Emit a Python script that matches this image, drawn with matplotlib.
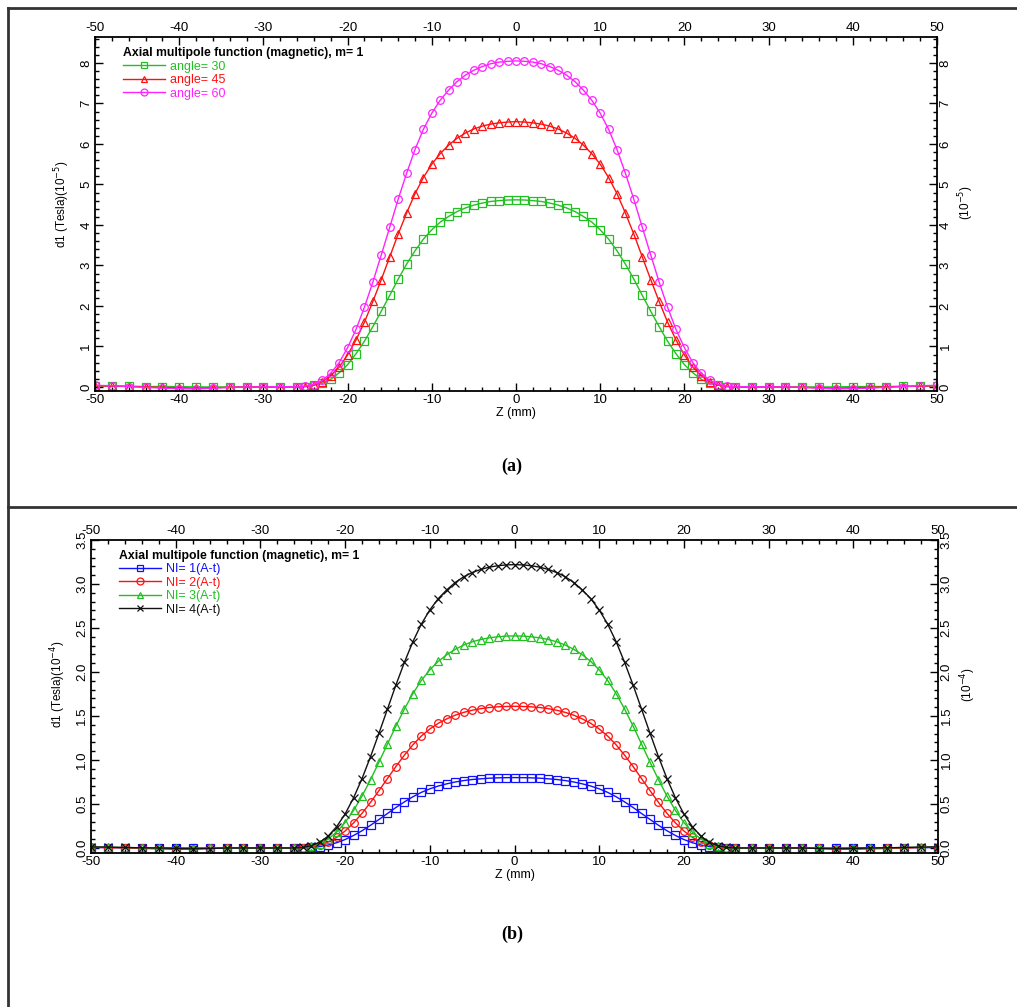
import matplotlib
matplotlib.use("Agg")
import matplotlib.pyplot as plt
from matplotlib.lines import Line2D
from matplotlib.ticker import MultipleLocator, FuncFormatter

plt.rcParams['font.family'] = ['Liberation Sans', 'DejaVu Sans']
plt.rcParams['axes.unicode_minus'] = False

# ---------------- data ----------------
z_outer_left = [-50, -48, -46, -44, -42, -40, -38, -36, -34, -32, -30, -28]
z_inner = list(range(-26, 27))
z_outer_right = [28, 30, 32, 34, 36, 38, 40, 42, 44, 46, 48, 50]
z = z_outer_left + z_inner + z_outer_right

# panel (a): d1 (10^-5 Tesla)
angle30 = ([0.02, 0.02, 0.02, 0.01, 0.01, 0.01, 0.0, 0.0, 0.0, 0.0, 0.0, 0.0] +
           [0.00, 0.01, 0.04, 0.09, 0.19, 0.35, 0.55, 0.82, 1.13, 1.49, 1.87, 2.26, 2.66,
            3.03, 3.36, 3.65, 3.88, 4.07, 4.21, 4.33, 4.42, 4.49, 4.54, 4.58, 4.60, 4.615,
            4.62,
            4.615, 4.60, 4.58, 4.54, 4.49, 4.42, 4.33, 4.21, 4.07, 3.88, 3.65, 3.36, 3.03,
            2.66, 2.26, 1.87, 1.49, 1.13, 0.82, 0.55, 0.35, 0.19, 0.09, 0.04, 0.01, 0.00] +
           [0.0, 0.0, 0.0, 0.0, 0.0, 0.0, 0.01, 0.01, 0.01, 0.02, 0.02, 0.02])
angle45 = ([0.03, 0.02, 0.01, 0.0, -0.01, -0.02, -0.03, -0.02, -0.01, 0.0, 0.0, 0.0] +
           [0.00, 0.01, 0.05, 0.13, 0.28, 0.49, 0.79, 1.16, 1.60, 2.11, 2.65, 3.21, 3.77,
            4.29, 4.77, 5.17, 5.50, 5.76, 5.97, 6.14, 6.27, 6.37, 6.44, 6.49, 6.52, 6.54,
            6.55,
            6.54, 6.52, 6.49, 6.44, 6.37, 6.27, 6.14, 5.97, 5.76, 5.50, 5.17, 4.77, 4.29,
            3.77, 3.21, 2.65, 2.11, 1.60, 1.16, 0.79, 0.49, 0.28, 0.13, 0.05, 0.01, 0.00] +
           [0.0, 0.0, 0.0, -0.01, -0.02, -0.03, -0.02, -0.01, 0.0, 0.01, 0.02, 0.03])
angle60 = ([0.04, 0.03, 0.01, -0.01, -0.03, -0.04, -0.05, -0.03, -0.01, 0.0, 0.0, 0.01] +
           [0.00, 0.02, 0.06, 0.16, 0.34, 0.60, 0.97, 1.42, 1.97, 2.59, 3.26, 3.94, 4.63,
            5.27, 5.86, 6.36, 6.76, 7.08, 7.33, 7.54, 7.70, 7.82, 7.91, 7.98, 8.02, 8.04,
            8.05,
            8.04, 8.02, 7.98, 7.91, 7.82, 7.70, 7.54, 7.33, 7.08, 6.76, 6.36, 5.86, 5.27,
            4.63, 3.94, 3.26, 2.59, 1.97, 1.42, 0.97, 0.60, 0.34, 0.16, 0.06, 0.02, 0.00] +
           [0.01, 0.0, 0.0, -0.01, -0.03, -0.05, -0.04, -0.03, -0.01, 0.01, 0.03, 0.04])

# panel (b): d1 (10^-4 Tesla)
ni1 = ([0.005, 0.004, 0.003, 0.002, 0.001, 0.0, 0.0, 0.0, 0.0, 0.0, 0.0, 0.0] +
       [0.000, 0.002, 0.006, 0.016, 0.034, 0.060, 0.096, 0.142, 0.196, 0.258, 0.324, 0.392, 0.460,
        0.524, 0.582, 0.632, 0.672, 0.704, 0.729, 0.750, 0.766, 0.778, 0.786, 0.793, 0.797, 0.799,
        0.800,
        0.799, 0.797, 0.793, 0.786, 0.778, 0.766, 0.750, 0.729, 0.704, 0.672, 0.632, 0.582, 0.524,
        0.460, 0.392, 0.324, 0.258, 0.196, 0.142, 0.096, 0.060, 0.034, 0.016, 0.006, 0.002, 0.000] +
       [0.0, 0.0, 0.0, 0.0, 0.0, 0.0, 0.0, 0.001, 0.002, 0.003, 0.004, 0.005])
ni2 = ([0.01, 0.005, 0.0, -0.005, -0.01, -0.015, -0.01, -0.005, 0.0, 0.0, 0.0, 0.0] +
       [0.000, 0.003, 0.013, 0.032, 0.068, 0.121, 0.193, 0.285, 0.394, 0.518, 0.652, 0.789, 0.926,
        1.055, 1.172, 1.272, 1.352, 1.417, 1.467, 1.509, 1.541, 1.565, 1.583, 1.596, 1.604, 1.608,
        1.610,
        1.608, 1.604, 1.596, 1.583, 1.565, 1.541, 1.509, 1.467, 1.417, 1.352, 1.272, 1.172, 1.055,
        0.926, 0.789, 0.652, 0.518, 0.394, 0.285, 0.193, 0.121, 0.068, 0.032, 0.013, 0.003, 0.000] +
       [0.0, 0.0, 0.0, 0.0, -0.005, -0.01, -0.015, -0.01, -0.005, 0.0, 0.005, 0.01])
ni3 = ([0.01, 0.008, 0.005, 0.002, 0.0, -0.005, -0.008, -0.005, 0.0, 0.0, 0.0, 0.0] +
       [0.000, 0.005, 0.019, 0.048, 0.101, 0.181, 0.289, 0.427, 0.590, 0.776, 0.976, 1.181, 1.386,
        1.579, 1.754, 1.904, 2.024, 2.121, 2.196, 2.258, 2.306, 2.343, 2.369, 2.388, 2.400, 2.408,
        2.410,
        2.408, 2.400, 2.388, 2.369, 2.343, 2.306, 2.258, 2.196, 2.121, 2.024, 1.904, 1.754, 1.579,
        1.386, 1.181, 0.976, 0.776, 0.590, 0.427, 0.289, 0.181, 0.101, 0.048, 0.019, 0.005, 0.000] +
       [0.0, 0.0, 0.0, 0.0, -0.005, -0.008, -0.005, 0.0, 0.002, 0.005, 0.008, 0.01])
ni4 = ([0.012, 0.01, 0.006, 0.002, 0.0, -0.005, -0.01, -0.006, 0.0, 0.0, 0.0, 0.0] +
       [0.000, 0.006, 0.026, 0.064, 0.135, 0.242, 0.386, 0.570, 0.789, 1.037, 1.304, 1.578, 1.852,
        2.109, 2.344, 2.544, 2.705, 2.834, 2.933, 3.017, 3.082, 3.130, 3.165, 3.191, 3.207, 3.217,
        3.220,
        3.217, 3.207, 3.191, 3.165, 3.130, 3.082, 3.017, 2.933, 2.834, 2.705, 2.544, 2.344, 2.109,
        1.852, 1.578, 1.304, 1.037, 0.789, 0.570, 0.386, 0.242, 0.135, 0.064, 0.026, 0.006, 0.000] +
       [0.0, 0.0, 0.0, 0.0, -0.006, -0.01, -0.005, 0.0, 0.002, 0.006, 0.01, 0.012])

labels_a = ['angle= 30', 'angle= 45', 'angle= 60']
labels_b = ['NI= 1(A-t)', 'NI= 2(A-t)', 'NI= 3(A-t)', 'NI= 4(A-t)']
title_txt = 'Axial multipole function (magnetic), m= 1'

W, H = 1017, 1007
fig = plt.figure(figsize=(W / 100, H / 100), dpi=100)


def fx(px):
    return px / W


def fy(py):
    return 1 - py / H


def style_axes(ax, ymajor, yminor, fmt):
    ax.set_xlim(-50, 50)
    ax.xaxis.set_major_locator(MultipleLocator(10))
    ax.xaxis.set_minor_locator(MultipleLocator(2))
    ax.yaxis.set_major_locator(MultipleLocator(ymajor))
    ax.yaxis.set_minor_locator(MultipleLocator(yminor))
    ax.tick_params(which='both', direction='in', top=True, right=True,
                   labeltop=True, labelright=True, labelsize=9.5, width=1.0)
    ax.tick_params(which='major', length=6, pad=2)
    ax.tick_params(which='minor', length=3)
    ax.tick_params(axis='y', labelrotation=90)
    ax.yaxis.set_major_formatter(fmt)
    for lab in ax.get_yticklabels():
        lab.set_va('center')
    for s in ax.spines.values():
        s.set_linewidth(1.3)


def draw_legend(ax, handles, colors, anchor):
    leg = ax.legend(handles=handles, loc='upper left', bbox_to_anchor=anchor,
                    frameon=False, title=title_txt, fontsize=9, handlelength=3.4,
                    handletextpad=0.4, labelspacing=0.12, borderaxespad=0,
                    title_fontproperties={'weight': 'bold', 'size': 8.8})
    leg._legend_box.align = 'left'
    for t, c in zip(leg.get_texts(), colors):
        t.set_color(c)
    return leg


# ---------------- panel (a) ----------------
axa = fig.add_axes([fx(95), fy(391), fx(937 - 95), (391 - 37) / H])
cols_a = ['#22c022', '#ff1010', '#ff22ff']
mk_a = ['s', '^', 'o']
series_a = [angle30, angle45, angle60]
hands = []
for y, c, m, lab in zip(series_a, cols_a, mk_a, labels_a):
    axa.plot(z, y, color=c, lw=1.0, marker=m, ms=5.5, mfc='none', mec=c, mew=0.9)
    hands.append(Line2D([], [], color=c, lw=1.0, marker=m, ms=5, mfc='none', mec=c, mew=0.9, label=lab))
axa.set_ylim(-0.1, 8.64)
style_axes(axa, 1, 0.2, FuncFormatter(lambda v, p: f'{v:.0f}'))
axa.set_xlabel('Z (mm)', fontsize=9, labelpad=1)
draw_legend(axa, hands, cols_a, (0.027, 0.985))

fig.text(fx(62), fy(204), 'd1 (Tesla)(10$^{-5}$)', rotation=90, ha='center', va='center', fontsize=8.5)
fig.text(fx(966), fy(203), '(10$^{-5}$)', rotation=90, ha='center', va='center', fontsize=8.5)
fig.text(fx(512), fy(466), '(a)', ha='center', va='center', fontsize=13, fontweight='bold',
         family='Liberation Serif')

# ---------------- panel (b) ----------------
axb = fig.add_axes([fx(91), fy(853), fx(938 - 91), (853 - 540) / H])
cols_b = ['#1010ff', '#ff1010', '#22c022', '#111111']
mk_b = ['s', 'o', '^', 'x']
series_b = [ni1, ni2, ni3, ni4]
hands = []
for y, c, m, lab in zip(series_b, cols_b, mk_b, labels_b):
    axb.plot(z, y, color=c, lw=1.0, marker=m, ms=5.5, mfc='none', mec=c, mew=0.9)
    hands.append(Line2D([], [], color=c, lw=1.0, marker=m, ms=5, mfc='none', mec=c, mew=0.9, label=lab))
axb.set_ylim(-0.057, 3.5)
style_axes(axb, 0.5, 0.1, FuncFormatter(lambda v, p: f'{v:.1f}'))
axb.set_xlabel('Z (mm)', fontsize=9, labelpad=1)
draw_legend(axb, hands, cols_b, (0.027, 0.985))

fig.text(fx(58), fy(684), 'd1 (Tesla)(10$^{-4}$)', rotation=90, ha='center', va='center', fontsize=8.5)
fig.text(fx(968), fy(685), '(10$^{-4}$)', rotation=90, ha='center', va='center', fontsize=8.5)
fig.text(fx(512), fy(934), '(b)', ha='center', va='center', fontsize=13, fontweight='bold',
         family='Liberation Serif')

# ---------------- outer frame ----------------
frame_kw = dict(color='#333333', lw=2, transform=fig.transFigure)
fig.add_artist(Line2D([fx(8), fx(8)], [fy(8), 0], **frame_kw))
fig.add_artist(Line2D([fx(8), 1], [fy(8), fy(8)], **frame_kw))
fig.add_artist(Line2D([fx(8), 1], [fy(507), fy(507)], **frame_kw))

fig.savefig('out.png', dpi=100)
